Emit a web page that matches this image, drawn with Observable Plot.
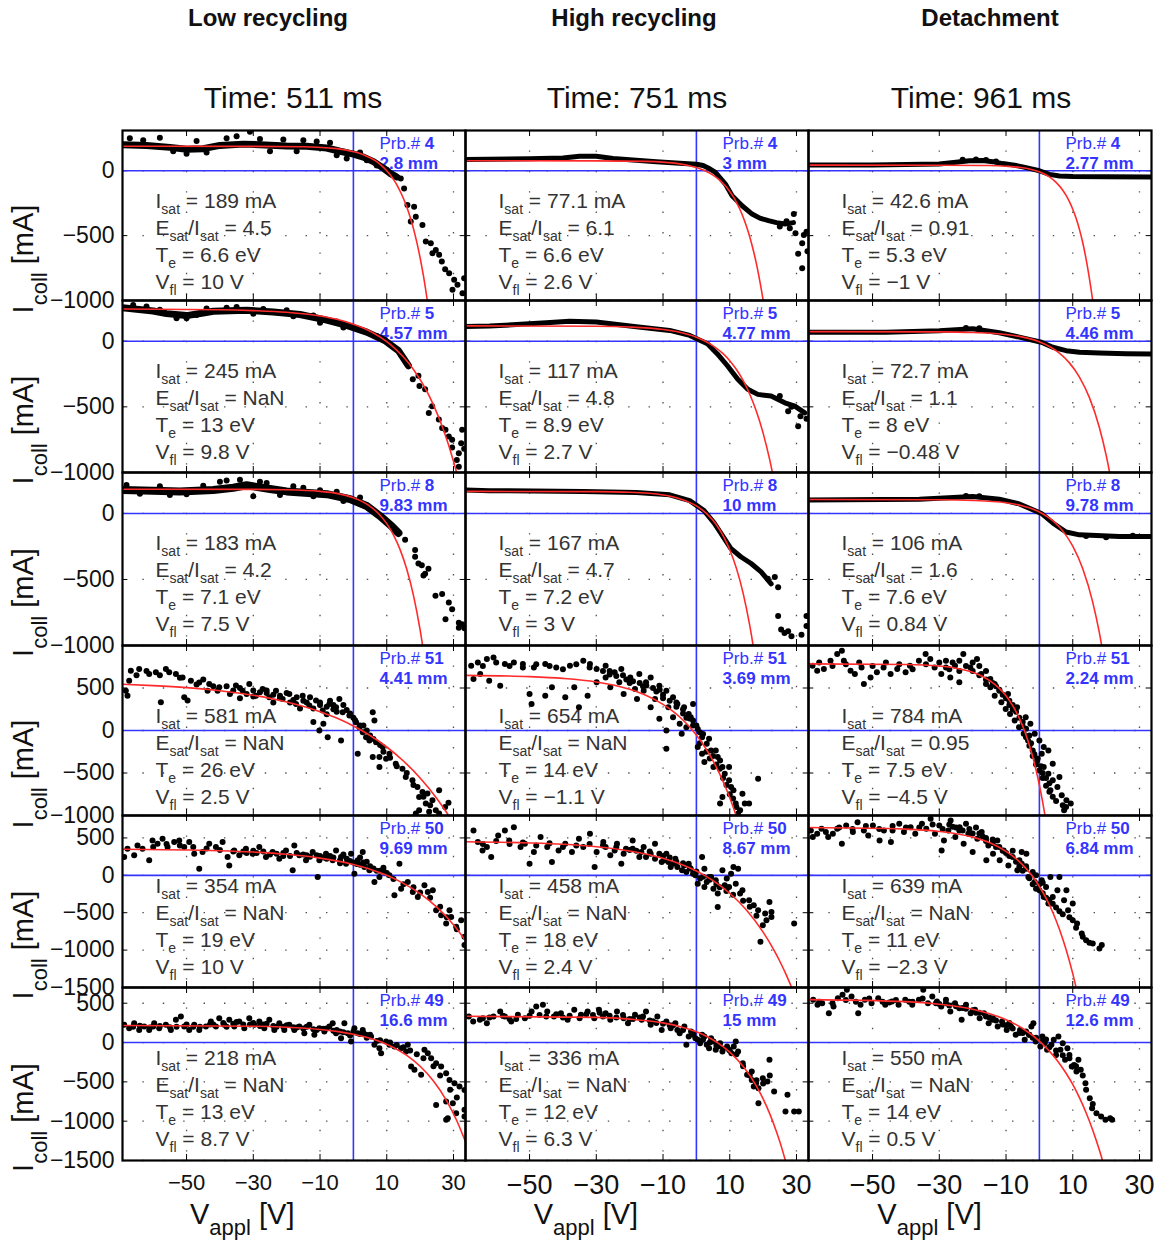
<!DOCTYPE html>
<html><head><meta charset="utf-8">
<script src="https://cdn.jsdelivr.net/npm/d3@7"></script>
<script src="https://cdn.jsdelivr.net/npm/@observablehq/plot@0.6"></script>
<style>
body{margin:0;background:#fff;}
#page{position:relative;width:1168px;height:1245px;overflow:hidden;background:#fff;}
</style></head><body><div id="page"></div>
<script>
// ---------- categories & labels ----------
const cols = ["low", "high", "det"];
const colTitles = ["Low recycling", "High recycling", "Detachment"];
const times = ["Time: 511 ms", "Time: 751 ms", "Time: 961 ms"];
const probes = [4, 5, 8, 51, 50, 49];
const dists = [["2.8 mm","3 mm","2.77 mm"],["4.57 mm","4.77 mm","4.46 mm"],["9.83 mm","10 mm","9.78 mm"],
               ["4.41 mm","3.69 mm","2.24 mm"],["9.69 mm","8.67 mm","6.84 mm"],["16.6 mm","15 mm","12.6 mm"]];
const Isat = [["189","77.1","42.6"],["245","117","72.7"],["183","167","106"],["581","654","784"],["354","458","639"],["218","336","550"]];
const EsatIsat = [["4.5","6.1","0.91"],["NaN","4.8","1.1"],["4.2","4.7","1.6"],["NaN","NaN","0.95"],["NaN","NaN","NaN"],["NaN","NaN","NaN"]];
const Te = [["6.6","6.6","5.3"],["13","8.9","8"],["7.1","7.2","7.6"],["26","14","7.5"],["19","18","11"],["13","12","14"]];
const Vfl = [["10","2.6","\u22121"],["9.8","2.7","\u22120.48"],["7.5","3","0.84"],["2.5","\u22121.1","\u22124.5"],["10","2.4","\u22122.3"],["8.7","6.3","0.5"]];
const xDomain = [-69.2, 33.6];
const xTicks = [-50, -30, -10, 10, 30];
const yDomains = [[-1000,310],[-1000,310],[-1000,310],[-1000,1000],[-1500,800],[-1500,700]];
const yTicks = [[0,-500,-1000],[0,-500,-1000],[0,-500,-1000],[500,0,-500,-1000],[500,0,-500,-1000,-1500],[500,0,-500,-1000,-1500]];

// ---------- fitted curves (V, I) ----------
const fit_p4 = [
 [-69.2,189,-30,188,-15,185,-5,170,0,147,3,124,5,100,7,70,9,26,10,0,11,-31,12,-67,13,-108,14,-158,15,-214,16,-280,17,-357,18,-446,19,-550,20,-671,21,-811,22,-975,23,-1166],
 [-69.2,77,-30,76,-15,72,-10,66,-5,53,-2,39,0,25,2.6,0,5,-34,7,-73,8,-98,9,-126,10,-160,11,-198,12,-243,13,-295,14,-357,15,-428,16,-510,17,-607,18,-718,19,-849,20,-998,21,-1180],
 [-69.2,43,-30,42,-15,40,-10,35,-5,23,-3,13,-1,0,1,-19,3,-48,5,-90,7,-150,8,-190,9,-238,10,-297,11,-367,12,-452,13,-555,14,-681,15,-832,16,-1006,17,-1230]];
const fit_p5 = [
 [-69.2,245,-40,240,-30,233,-20,220,-10,192,-5,167,0,130,3,100,6,62,9.8,0,12,-45,15,-121,18,-215,21,-335,24,-485,27,-675,30,-914,31,-1006,32,-1105],
 [-69.2,117,-30,114,-20,108,-10,89,-5,68,0,31,2.7,0,5,-35,8,-95,10,-149,12,-216,14,-299,16,-404,18,-536,20,-700,22,-906,23,-1028,24,-1164],
 [-69.2,73,-30,71,-20,66,-10,51,-5,31,-0.48,0,3,-40,6,-91,9,-165,12,-273,15,-430,18,-659,20,-868,21,-993,22,-1136]];
const fit_p8 = [
 [-69.2,183,-30,182,-20,179,-10,167,-5,152,0,119,3,86,5,54,7.5,0,10,-77,12,-162,14,-274,16,-423,18,-620,20,-882,21,-1043,22,-1228],
 [-69.2,167,-30,165,-20,160,-10,140,-5,112,0,57,3,0,6,-86,8,-168,10,-275,12,-416,14,-603,16,-850,17,-1000,18,-1174],
 [-69.2,106,-30,104,-20,99,-10,81,-5,57,-2,33,0.84,0,4,-55,7,-132,10,-248,13,-419,16,-673,18,-907,19,-1050,20,-1212]];
const fit_p51 = [
 [-69.2,544,-60,528,-50,504,-40,468,-30,415,-20,336,-10,222,-5,146,0,53,2.5,0,5,-59,10,-194,15,-359,20,-558,25,-799,28,-968,30,-1092],
 [-69.2,649,-50,634,-40,613,-30,571,-20,485,-15,412,-10,308,-7,225,-5,159,-3,83,-1.1,0,1,-106,3,-223,5,-357,7,-513,9,-691,11,-898,12,-1013,13,-1136],
 [-69.2,784,-40,777,-30,758,-25,733,-20,685,-17,636,-15,590,-12,496,-10,408,-8,292,-6,142,-4.5,0,-3,-173,-2,-310,-1,-466,0,-644,1,-846,2,-1080]];
const fit_p50 = [
 [-69.2,348,-50,339,-40,329,-30,311,-20,281,-10,230,-5,193,0,145,5,82,10,0,15,-107,20,-245,25,-426,30,-660,33.6,-872],
 [-69.2,449,-50,433,-40,415,-30,382,-20,326,-10,228,-5,154,0,57,2.4,0,5,-71,10,-240,15,-464,20,-760,23,-980,25,-1149,27,-1338,29,-1549],
 [-69.2,639,-40,618,-30,587,-20,511,-15,438,-10,321,-7,222,-5,139,-2.3,0,0,-149,2,-305,4,-493,6,-721,8,-991,10,-1315,11,-1502]];
const fit_p49 = [
 [-69.2,217,-30,207,-20,194,-10,166,-5,142,0,106,5,54,8.7,0,12,-63,16,-164,20,-302,24,-489,28,-744,31,-994,33.6,-1262],
 [-69.2,335,-30,320,-20,298,-10,250,-5,205,0,137,3,81,6.3,0,10,-121,14,-302,18,-555,20,-717,22,-907,24,-1133,25,-1260,27,-1549],
 [-69.2,546,-40,520,-30,488,-20,423,-10,290,-5,179,0.5,0,5,-208,8,-390,10,-533,12,-701,14,-893,16,-1114,18,-1370,19,-1512]];

// ---------- dense measured bands (V, I) ----------
const band_p4 = [
 [-69.2,200,-62,195,-55,180,-50,165,-45,170,-40,195,-33,205,-28,200,-20,190,-14,188,-8,175,-4,150,0,128,3,105,6,70,9,20,11,-20,13,-48],
 [-69.2,86,-50,92,-40,98,-35,112,-30,112,-25,95,-18,80,-12,70,-5,58,0,50,2,40,4,15,5.7,-13,8.7,-103,10.7,-193,13.7,-270,16.7,-334,19,-365,21.6,-385,24,-400,26.6,-410,29.1,-400],
 [-69.2,45,-50,45,-40,48,-30,52,-25,65,-21,77,-17,78,-14,70,-11,55,-8,45,-5,30,-2,12,0,0,3,-28,6,-40,10,-44,20,-46,33.6,-48]];
const band_p5 = [
 [-69.2,254,-60,230,-56,210,-50,195,-45,215,-42,228,-32,236,-24,223,-16,203,-8,160,-2,121,4,69,9.4,5,13.5,-72,16.5,-187],
 [-69.2,112,-62,115,-45,140,-38,152,-30,146,-18,110,-8,82,-2,44,3.3,-20,6.3,-97,9.3,-187,12.4,-290,15.4,-366,18.4,-405,22.4,-418,26.5,-469,29.5,-495,32.5,-546],
 [-69.2,69,-46,69,-30,80,-20,95,-12,64,-6,31,0.6,-8,4,-46,8,-72,12,-84,18,-90,26,-95,33.6,-97]];
const band_p8 = [
 [-69.2,177,-60,172,-52,167,-42,177,-36,195,-32,213,-25,185,-20,167,-8,146,-1,108,4,56,8,-20,11.5,-97,13.5,-148],
 [-69.2,177,-62,172,-34,167,-18,159,-8,141,-2,97,2.3,21,5.3,-72,8.3,-187,10.3,-264,13.3,-328,16.4,-379,19.4,-443,22.4,-533],
 [-69.2,102,-36,108,-20,128,-12,108,-6,72,0.6,0,4,-72,8,-141,12,-162,24,-174,33.6,-174]];
const band_none = [[], [], []];
const bandWidths = [[7,5,5],[7,5,5],[8,5,5],[0,0,0],[0,0,0],[0,0,0]];

// ---------- individual measured points (V, I) ----------
const pts_p4 = [
 [-67,250,-63,235,-58,255,-54,150,-50,130,-47,230,-44,140,-38,250,-35,265,-31,300,-28,245,-25,150,-21,240,-17,150,-15,235,-11,225,-7,215,-5,120,-2,95,2,140,4,80,7,40,10,5,12,-35,
  14.2,-59,15.2,-136,16.2,-264,18.2,-277,18.7,-354,17.2,-392,20.7,-418,21.7,-546,23.2,-559,24.7,-610,23.7,-636,25.7,-648,28.7,-790,30.2,-841,31.2,-879,32.7,-944,33.2,-828,29.7,-918,27.5,-760,26.5,-700],
 [29.2,-333,32.2,-495,31.7,-559,31.7,-751,29.7,-482,27,-390,28,-444,25,-430,33,-470,33.3,-620,30.5,-640],
 [-23,84,-19,86,-16,82,-13,72]];
const pts_p5 = [
 [-66,275,-62,265,-58,240,-53,175,-50,175,-47,200,-44,250,-38,255,-35,260,-30,210,-27,245,-20,235,-18,190,-12,195,-10,140,-5,150,-3,105,1,95,7,40,
  19.5,-264,17.8,-290,19.8,-341,21.5,-366,22.6,-546,23.6,-495,25.6,-597,26.6,-662,27.6,-674,28.6,-726,29.6,-751,29.6,-810,31.6,-853,31,-905,31.6,-956,32.6,-674,32.3,-777,33.2,-820],
 [30.5,-648,27.5,-533,31.2,-571,25,-418,28.5,-500,33,-590],
 [-22,100,-18,98]];
const pts_p8 = [
 [-68,215,-64,150,-58,205,-55,140,-50,145,-45,210,-40,240,-38,250,-34,255,-30,130,-28,240,-26,230,-22,140,-18,205,-15,195,-12,130,-10,175,-5,165,-3,95,2,120,6,20,
  15.5,-200,18.5,-277,18.5,-328,19.5,-380,20.5,-392,21,-470,21.5,-456,22.5,-418,24.6,-623,26.6,-610,27.6,-802,28.6,-674,29.6,-725,31.6,-827,31.6,-866,32.6,-840,33.3,-870],
 [24.5,-559,21.4,-495,23.5,-482,24.5,-777,25.4,-879,26.4,-905,27.5,-892,28.5,-930,31.5,-918,33,-853,33,-777],
 [-22,132,-18,130,14,-170,20,-180,28,-168]];
const pts_p51 = [
 [-66.7,703,-64.2,723,-61.2,664,-59.2,684,-56.2,723,-55.2,684,-53.2,664,-51.2,625,-48.7,586,-46.2,566,-43.2,547,-40.2,508,
  -68.2,469,-67.7,410,-67.2,586,-57.7,332,-50.7,391,-49.7,352,-43.7,469,-40.7,469,
  -35.2,528,-33.2,469,-31.2,547,-29.2,410,-27.2,489,-25.2,391,-23.2,469,-21.2,371,-19.2,430,-17.2,313,-15.2,410,-13.2,293,-11.2,352,-9.2,235,-7.2,313,-5.2,274,-4.2,371,-3.2,215,-1.2,176,0.8,98,1.8,39,2.8,-20,3.8,-78,5.8,215,4.8,-117,6.8,-137,8.8,-195,9.8,-332,7.8,-313,10.8,-274,12.7,-391,
  14.7,-449,15.7,-547,17.7,-586,19.2,-664,20.7,-723,19.7,-781,22.2,-742,23.7,-820,25.7,-703,21.7,-860,19.7,-938,22.7,-957,24.7,-938,25.7,-977,18.7,-977,
  -10.2,0,-7.7,-78,-3.7,-117,1.3,-274,5.8,-313,7.8,-430,6.3,117,-12,100,-9,80,27.5,-900,28.5,-850,
  -37,430,-34,380,-30,470,-26,440,-22,410,-18,360,-14,330,-10,300,-6,250,-2,240,0,150,3,60,-24,330,-16,260,-8,190,
  -38,520,-36,470,-34,500,-32,430,-30,400,-28,450,-26,470,-24,420,-22,380,-20,440,-19,330,-17,390,-15,350,-13,390,-12,260,-10,330,-8,280,-7,350,-6,300,-5,220,-3,300,-1,200,0.5,120,2,60,4,0,5,-60,6,-100,8,-170,9,-250,11,-320,13,-420,16,-500,18,-640,21,-780,23,-880,
  -65,650,-62,700,-58,650,-52,620,-47,540,-45,600,-42,520],
 [-67.5,762,-65.5,801,-62.8,840,-60.8,860,-57.4,781,-54.7,801,-52,781,-48.7,742,-45.3,781,-42,742,-37.9,762,-33.9,821,-31.9,781,-29.9,723,-27.2,762,-24.5,684,-22.5,723,-19.8,625,-17.1,664,-15.1,567,-13.7,625,-11.1,527,-9,469,-7,391,-5.7,312,-3.7,273,-2.3,195,-1,117,0.4,19,1.7,-78,3.1,-156,4.4,-235,6.4,-313,7.8,-430,9.8,-586,11.1,-704,11.8,-860,13.1,-938,14.5,-860,
  -66.8,606,-64.8,664,-62.1,586,-58.8,527,-50,430,-49.4,312,-45.3,410,-43.3,508,-39.3,391,-36.6,508,-35.2,273,-32.6,410,-29.9,567,-27.2,625,-25.8,508,-23.1,567,-21.8,430,-18.4,488,-17.8,371,-15.8,469,-13.7,273,-12.4,371,-11.1,137,-9,0,-8.4,273,-7,156,-5,78,-4.4,-39,-3,39,-1.7,156,-1,312,-9,-215,0.4,-195,1.7,-274,2.4,-371,3.8,-98,5.1,-430,5.8,-235,7.1,-352,8.5,-508,9.8,-430,10.4,-664,13.8,-743,15.8,-860,18.5,-567,7.8,-782,7.1,-860,12.5,-977,
  -20,560,-16,520,-12,460,-10,420,-6,330,-4,250,-2,140,0,60,2,-40,-26,700,-22,650,
  -28,700,-26,660,-24,640,-21,600,-19,580,-17,560,-15,530,-13,500,-11,480,-10,380,-8,350,-6,280,-4,200,-3,150,-1,60,1,-20,1,-150,3,-250,4,-330,5,-300,6,-400,7,-450,8,-560,9,-640,10,-750,11,-800,12,-900,
  -64,760,-60,800,-56,760,-52,740,-48,780,-44,760,-40,720,-36,780,-32,740],
 [-68,762,-66.6,703,-64.6,723,-62.6,821,-60.6,899,-59.2,938,-58.6,821,-56.6,703,-55.3,664,-53.3,742,-52.6,547,-50.6,625,-48.7,684,-46.7,742,-44.6,664,-42.6,723,-40.1,684,-38.8,762,-36.1,821,-34.1,899,-32.7,840,-31.4,742,-29.4,664,-28,821,-26.7,625,-25.3,762,-24,567,-22.8,899,-20.7,742,-18.7,840,-17.4,664,-16,547,-14.7,508,-13.4,410,-11.4,332,-10.1,254,-8.8,195,-7.4,117,-6.1,39,-4.7,-39,-3.4,-117,-2,-235,-0.7,-352,0.7,-274,1.3,-430,2.7,-508,4,-586,5.4,-664,6.7,-762,8.1,-821,9.4,-860,7.4,-938,
  0,-117,-2.7,78,-14.7,606,-13.4,547,-9.4,430,2.7,-235,4,-391,1.3,-195,3.3,-703,6,-547,-12,469,-6.7,273,-4.1,156,-1.4,-39,
  -20,700,-18,650,-16,600,-14,560,-12,480,-11,420,-9,350,-8,300,-7,220,-5,100,-4,20,-3,-60,-2.5,-150,-1.5,-280,-0.5,-330,0.5,-420,1,-500,2,-560,3,-620,-24,700,-27,720,
  -66,800,-62,760,-58,780,-54,800,-50,760,-46,800,-42,780,-38,720,-34,780,-30,800,-28,740,-26,800,-24,820,-22,760,-20,800,-18,760,-16,700,
  -13,520,-10,380,-9,300,-8,250,-6,150,-5,50,-4,-80,-3,-180,-2,-300,-1,-400,0,-470,1,-560,2,-650,3,-720,4,-780,5,-830,7,-880,8,-900]];
const pts_p50 = [
 [-68.7,244,-67.7,356,-65.7,267,-64.7,400,-63.2,356,-61.2,200,-60.2,467,-58.7,422,-57.2,489,-55.7,378,-53.7,444,-52.2,467,-50.7,378,-49.2,444,-47.7,289,-46.2,89,-45.2,311,-43.2,422,-41.2,378,-39.2,444,-37.7,244,-37.2,133,-35.7,333,-34.2,267,-32.2,356,-30.2,289,-28.2,378,-26.2,244,-24.2,311,-22.2,222,-20.2,333,-18.2,67,-17.7,400,-16.2,267,-14.2,200,-12.2,311,-10.7,-22,-10.2,200,-8.2,289,-6.2,200,-5.2,333,-3.7,244,-2.2,156,-0.7,289,0.3,22,1.3,200,2.8,311,3.3,111,4.8,67,6.3,-89,7.8,-22,9.3,44,10.8,0,12.3,-267,13.8,156,14.3,-178,16.3,-89,17.8,-222,19.3,-289,21.3,-133,22.3,-222,23.8,-200,24.8,-467,26.3,-533,27.8,-644,29.3,-556,30.8,-689,32.3,-600,33.3,-933,33.3,-822,28.8,-467,
  -33,320,-29,300,-25,280,-21,300,-19,260,-15,280,-13,250,-11,270,-9,240,-7,260,-4,200,-1,190,1,150,3,170,5,120,7,60,9,100,2,240,-3,280,
  -60,380,-56,420,-52,400,-48,380,-44,360,-40,340,-36,320,-32,300,-30,330,-27,320,-23,290,-21,260,-17,300,-14,270,-10,260,-8,220,-6,240,-4,160,-2,220,0,170,2,140,4,180,6,90,8,60,10,30,12,-50,15,-120,18,-160,20,-230,23,-300,26,-420,28,-560,31,-720],
 [-66.8,600,-65.5,444,-64.1,333,-62.8,378,-61.5,244,-59.4,533,-57.4,600,-56.1,467,-54.7,644,-52.7,378,-51.4,422,-50,156,-48.7,311,-46.7,511,-44.7,378,-43.3,178,-41.3,333,-39.3,422,-37.3,311,-35.2,489,-33.9,378,-31.9,556,-30.5,111,-29.9,311,-27.9,444,-25.8,267,-23.8,422,-22.5,156,-21.1,356,-19.1,467,-17.1,244,-15.8,378,-13.7,289,-12.4,422,-10.4,178,-9,289,-7.7,111,-6.3,222,-4.3,67,-2.3,156,-1,22,0.4,-111,1.7,244,2.4,89,3.8,-22,5.1,-178,6.4,-244,7.8,67,9.1,-44,10.4,22,11.1,111,12.5,89,13.8,-200,15.8,-333,17.2,-400,18.5,-467,19.9,-667,20.6,-511,21.9,-356,22.5,-556,22.5,-489,19.2,-889,29.3,-644,6.4,-422,2.4,-156,
  -27.2,378,-24.5,333,-21.8,289,-19.1,356,-16.5,311,-15.1,244,-12.4,222,-11.1,289,-9.7,200,-8.4,178,-7,156,-5.7,111,-3.7,133,-3,44,-1.7,89,-0.3,0,1.1,-44,3.1,-89,4.4,-22,5.8,-67,8.5,-133,9.8,-156,11.8,-111,13.1,-244,
  -64,420,-60,460,-56,420,-52,440,-48,400,-44,430,-40,380,-36,400,-32,420,-28,400,-24,380,-20,340,-18,330,-14,320,-10,260,-8,240,-6,180,-4,160,-2,100,0,50,2,-20,4,-60,6,-120,7,-160,9,-210,11,-260,14,-340,16,-420,18,-540,21,-600],
 [-68.5,600,-67.9,511,-66.6,556,-65.3,622,-63.3,511,-61.9,556,-60.6,622,-59.2,422,-57.9,667,-55.9,578,-54.5,711,-52.6,600,-51.3,533,-49.9,667,-47.9,467,-46.6,600,-44.5,444,-44,600,-42,689,-40.6,578,-38.6,644,-37.2,556,-35.2,689,-33.9,622,-32.6,756,-31.3,556,-30,667,-29.3,333,-28.6,467,-27.3,600,-26.6,733,-25.2,511,-23.9,644,-22.7,422,-21.3,556,-20,311,-18.6,489,-17.3,578,-15.9,200,-15.3,400,-13.9,289,-12.6,467,-11.9,200,-10.7,333,-9.3,133,-8,244,-6.6,67,-5.3,156,-3.9,289,-3.3,-22,-2,44,-1.4,-89,0,-200,0.7,-67,2,-156,3.3,-22,4,-289,5.4,-200,6,-22,7.4,-333,8.6,-467,10,-600,11.3,-644,12.7,-778,14,-867,16,-911,18,-978,18.7,-933,8.1,-200,10,-378,2.7,-378,1.3,-289,-5.3,311,-3.9,89,
  -24,600,-20,560,-17,520,-14,430,-12,380,-10,300,-8,330,-6,200,-4,120,-1,0,1,-100,-26,650,-22,690,-19,640,-16,500,
  -64,580,-60,640,-56,620,-52,660,-48,620,-44,660,-40,640,-36,640,-32,680,-29,620,-27,680,-25,640,-23,600,-21,620,-18,560,-16,460,-14,480,-13,380,-11,330,-9,260,-7,180,-6,120,-5,60,-3,-40,-2,-120,-1,-180,0,-120,1,-240,2,-300,3,-330,4,-380,5,-430,6,-480,7,-520,9,-560,11,-700,13,-820,15,-900]];
const pts_p49 = [
 [-68.7,225,-67.2,183,-65.7,246,-64.2,161,-62.7,204,-61.2,161,-59.7,246,-58.2,183,-56.2,225,-54.7,161,-53.2,289,-51.7,331,-50.7,204,-49.2,161,-47.7,225,-46.2,161,-44.2,204,-42.7,268,-41.2,204,-40.2,310,-38.7,225,-37.2,289,-35.7,204,-34.2,268,-32.7,183,-31.2,310,-29.7,225,-28.2,268,-26.7,183,-25.2,289,-23.7,161,-22.2,246,-20.7,161,-19.2,225,-17.7,161,-16.2,204,-14.7,119,-13.2,225,-11.7,98,-10.2,183,-8.7,140,-7.2,204,-6.2,246,-5.2,119,-3.7,55,-2.7,246,-1.7,119,-0.7,13,0.3,183,1.3,119,2.8,161,3.8,98,5.3,77,6.3,-29,7.8,-72,8.3,-135,9.8,13,10.8,-29,12.3,-50,14.3,-72,15.8,-114,16.3,-29,17.3,-305,18.3,-347,20.3,-411,21.3,-93,22.3,-135,23.3,-199,24.8,-263,26.3,-305,27.8,-390,28.8,-475,30.3,-517,31.8,-559,33.3,-602,24.8,-793,27.8,-750,29.8,-772,28.3,-962,30.8,-899,33.3,-856,33.3,-941,27.8,-983,
  -66,200,-60,205,-55,195,-48,200,-43,230,-39,250,-36,240,-33,230,-30,250,-27,230,-24,210,-21,200,-18,195,-15,180,-12,170,-9,175,-6,150,-4,140,-1,90,2,110,4,60,7,20,
  -64,215,-61,190,-58,210,-53,200,-50,230,-46,200,-42,230,-38,200,-35,260,-31,230,-28,210,-26,240,-23,200,-20,220,-17,190,-14,200,-11,160,-8,180,-5,160,-3,130,0,140,3,120,5,100,8,30,11,0,13,-30,15,-60,17,-100,19,-150,21,-200,24,-300,26,-420,29,-600,31,-700],
 [-68.2,331,-66.9,268,-64.9,289,-62.8,246,-60.8,331,-58.8,395,-57.4,331,-55.5,268,-53.5,353,-51.4,310,-49.4,395,-48,458,-46,480,-44.7,395,-42.7,331,-40.6,374,-38.6,289,-36.6,416,-34.6,353,-32.6,395,-30.6,310,-29.2,416,-27.2,374,-25.8,289,-23.8,395,-21.8,310,-20.5,246,-18.4,353,-16.4,289,-15.1,395,-13.7,225,-11.7,331,-10.4,161,-9,268,-7.7,183,-6.3,246,-5,119,-3.6,204,-3,-29,-1.6,140,-0.3,55,1.1,-8,2.4,77,3.8,-72,5.1,13,6.5,-50,7.8,-114,9.8,-93,11.8,13,12.5,-114,13.9,-263,15.2,-411,16.6,-475,17.9,-517,18.6,-772,19.9,-454,21.3,-496,21.9,-220,23.3,-623,27.3,-665,26.7,-878,29.3,-878,30.7,-878,18.6,-581,17.2,-560,16.6,-369,
  -5.7,161,-2.3,77,-0.9,119,0.4,34,1.7,98,3.1,-29,4.4,55,5.8,-93,7.1,-8,9.2,-50,10.5,-135,11.2,-50,
  -64,310,-56,300,-50,340,-45,330,-40,320,-35,310,-31,350,-28,330,-24,320,-20,300,-17,320,-14,280,-12,250,-8,220,
  -62,320,-58,340,-54,300,-47,350,-42,360,-38,340,-33,360,-29,380,-26,340,-22,350,-19,300,-16,330,-13,270,-10,240,-7,220,-4,160,-1,100,2,40,4,0,6,-40,8,-80,10,-100,12,-150,14,-300,16,-420,18,-480,20,-520,22,-420],
 [-67.8,543,-66.5,480,-65.1,501,-63.1,373,-61.7,458,-60.4,564,-59,607,-57.7,670,-56.3,586,-54.3,373,-53.6,480,-52.3,543,-50.3,501,-48.3,564,-46.2,480,-44.2,522,-42.2,480,-40.2,543,-38.1,480,-36.1,543,-34.8,670,-33.4,501,-32.1,586,-30.7,522,-29.4,458,-28,543,-26.7,395,-25.3,501,-24,437,-23.3,289,-22,480,-20.6,373,-19.3,416,-17.9,310,-16.6,373,-15.2,246,-13.9,310,-12.5,204,-11.2,268,-9.8,161,-8.5,204,-7.1,98,-5.8,161,-4.4,34,-3.1,98,-1.8,246,-1.1,13,0.3,-51,1.6,-8,2.3,-93,3.6,-29,5,-157,6.3,-93,7.7,-220,9,-157,9.7,-305,11.1,-369,12.4,-347,13.8,-517,15.1,-708,15.8,-835,17.1,-899,18.5,-941,19.8,-983,21.2,-962,21.8,-983,7,-8,8.4,-72,10.4,-284,11.7,-220,5.7,77,4.3,34,0.9,77,-2.4,204,
  -45,510,-38,520,-30,490,-27,470,-22,430,-19,380,-16,330,-14,290,-11,230,-9,250,-6,120,-4,140,-2,60,2,40,
  -66,520,-62,500,-58,540,-55,520,-51,560,-47,520,-43,540,-39,520,-35,560,-31,500,-28,500,-25,460,-23,440,-20,410,-18,380,-15,320,-13,280,-10,220,-8,180,-5,120,-3,100,-1,60,1,20,3,-60,5,-100,7,-160,9,-200,11,-300,13,-420,14,-600,16,-780]];

const fits = [fit_p4, fit_p5, fit_p8, fit_p51, fit_p50, fit_p49];
const bands = [band_p4, band_p5, band_p8, band_none, band_none, band_none];
const pts = [pts_p4, pts_p5, pts_p8, pts_p51, pts_p50, pts_p49];

// ---------- layout / style ----------
const FONT = "'Liberation Sans', Arial, Helvetica, sans-serif";
const BLUE = "#3434ff";
const RED = "#ff2b2b";
const rowTops = [130, 300, 472, 645, 815, 987];
const rowHeights = [170, 172, 173, 170, 172, 173];
const marginLeft = 121, plotWidth = 1160, marginRight = 8;
const facetW = (plotWidth - marginLeft - marginRight) / 3;

const fmtTick = v => v < 0 ? "\u2212" + Math.abs(v) : String(v);
const toRows = (flat, col) => { const out = []; for (let i = 0; i < flat.length; i += 2) out.push({v: flat[i], i: flat[i + 1], col}); return out; };

function rich(el, str, subSize, subShift) {
  const sel = d3.select(el);
  sel.text(null).style("white-space", "pre");
  let down = false;
  for (const part of str.split(/(_\{[^}]*\}|\*[^*]*\*)/)) {
    if (!part) continue;
    const t = sel.append("tspan");
    if (part.startsWith("_{")) {
      if (down) t.attr("dy", 0); else t.attr("dy", subShift);
      t.attr("font-size", subSize).text(part.slice(2, -1));
      down = true;
    } else {
      if (down) { t.attr("dy", -subShift); down = false; }
      if (part.startsWith("*")) t.attr("font-weight", "bold").text(part.slice(1, -1));
      else t.text(part);
    }
  }
}

function rowPlot(r) {
  const H = rowHeights[r];
  const last = r === 5;
  const gridStyle = {stroke: "#3a3a3a", strokeWidth: 1.3, strokeOpacity: 0.9, strokeDasharray: "1.4,19"};
  const marks = [
    Plot.gridX(xTicks, gridStyle),
    Plot.gridY(yTicks[r], gridStyle),
    Plot.tickX(xTicks, {insetBottom: H - 6, stroke: "#000", strokeWidth: 1}),
    Plot.tickX(xTicks, {insetTop: H - 6, stroke: "#000", strokeWidth: 1}),
    Plot.tickY(yTicks[r], {insetRight: facetW - 6, stroke: "#000", strokeWidth: 1}),
    Plot.tickY(yTicks[r], {insetLeft: facetW - 6, stroke: "#000", strokeWidth: 1}),
    Plot.ruleY([0], {stroke: BLUE, strokeWidth: 1.6}),
    Plot.ruleX([0], {stroke: BLUE, strokeWidth: 1.6})
  ];
  const annLines = [
    j => `I_{sat} = ${Isat[r][j]} mA`,
    j => `E_{sat}/I_{sat} = ${EsatIsat[r][j]}`,
    j => `T_{e} = ${Te[r][j]} eV`,
    j => `V_{fl} = ${Vfl[r][j]} V`
  ];
  const annDy = [77, 104, 131, 158];
  annLines.forEach((f, k) => marks.push(Plot.text(cols.map((c, j) => ({col: c, t: f(j)})),
    {fx: "col", text: "t", frameAnchor: "top-left", textAnchor: "start", lineAnchor: "bottom", dx: 33, dy: annDy[k], fontSize: 21, fill: "#333"})));
  marks.push(Plot.text(cols.map(c => ({col: c, t: `Prb.# *${probes[r]}*`})),
    {fx: "col", text: "t", frameAnchor: "top-left", textAnchor: "start", lineAnchor: "bottom", dx: 257, dy: 18, fontSize: 17, fill: BLUE}));
  marks.push(Plot.text(cols.map((c, j) => ({col: c, t: `*${dists[r][j]}*`})),
    {fx: "col", text: "t", frameAnchor: "top-left", textAnchor: "start", lineAnchor: "bottom", dx: 257, dy: 38, fontSize: 17, fill: BLUE}));
  cols.forEach((c, j) => {
    if (bands[r][j].length) marks.push(Plot.line(toRows(bands[r][j], c),
      {x: "v", y: "i", fx: "col", stroke: "#000", strokeWidth: bandWidths[r][j], strokeLinejoin: "round", strokeLinecap: "round", clip: true}));
  });
  marks.push(Plot.dot(cols.flatMap((c, j) => toRows(pts[r][j], c)),
    {x: "v", y: "i", fx: "col", r: 3, fill: "#000", stroke: "none", clip: true}));
  marks.push(Plot.line(cols.flatMap((c, j) => toRows(fits[r][j], c)),
    {x: "v", y: "i", fx: "col", z: "col", stroke: RED, strokeWidth: 1.6, curve: "monotone-x", clip: true}));
  marks.push(Plot.frame({stroke: "#000", strokeWidth: 2.2}));
  if (last) {
    cols.forEach((c, j) => marks.push(Plot.text(xTicks.map(v => ({col: c, v})),
      {x: "v", fx: "col", text: d => fmtTick(d.v), frameAnchor: "bottom", lineAnchor: "top", dy: 14, fontSize: j === 0 ? 22 : 27, fill: "#111"})));
  }
  return Plot.plot({
    width: plotWidth, height: H,
    marginLeft, marginRight, marginTop: 0, marginBottom: 0,
    style: {background: "transparent", overflow: "visible", fontFamily: FONT, fontSize: "23px", color: "#111"},
    fx: {domain: cols, padding: 0, axis: null},
    x: {domain: xDomain, axis: null},
    y: {domain: yDomains[r], ticks: yTicks[r], tickFormat: fmtTick, tickSize: 0, tickPadding: 8, label: null},
    marks
  });
}

const page = document.getElementById("page");
for (let r = 0; r < 6; r++) {
  const svg = rowPlot(r);
  d3.select(svg).selectAll("text").each(function () {
    const s = this.textContent;
    if (s.includes("_{") || s.includes("*")) rich(this, s, 14, 6);
  });
  svg.style.position = "absolute";
  svg.style.left = "0px";
  svg.style.top = rowTops[r] + "px";
  page.appendChild(svg);
}

// ---------- headings & axis labels ----------
const ov = d3.create("svg").attr("width", 1168).attr("height", 1245)
  .style("position", "absolute").style("left", "0px").style("top", "0px").style("overflow", "visible")
  .attr("font-family", FONT).attr("fill", "#111");
const titleX = [268, 634, 990], timeX = [293, 637, 981];
colTitles.forEach((t, j) => ov.append("text").attr("x", titleX[j]).attr("y", 26).attr("text-anchor", "middle")
  .attr("font-size", 24).attr("font-weight", "bold").text(t));
times.forEach((t, j) => ov.append("text").attr("x", timeX[j]).attr("y", 108).attr("text-anchor", "middle")
  .attr("font-size", 30).text(t));
for (let r = 0; r < 6; r++) {
  const t = ov.append("text").attr("text-anchor", "middle").attr("font-size", 29)
    .attr("transform", `translate(33,${rowTops[r] + rowHeights[r] / 2 + 44}) rotate(-90)`);
  rich(t.node(), "I_{coll} [mA]", 22, 14);
}
for (let j = 0; j < 3; j++) {
  const t = ov.append("text").attr("x", marginLeft + j * facetW + 69).attr("y", 1224).attr("font-size", 29);
  rich(t.node(), "V_{appl} [V]", 22, 11);
}
page.appendChild(ov.node());
</script></body></html>
